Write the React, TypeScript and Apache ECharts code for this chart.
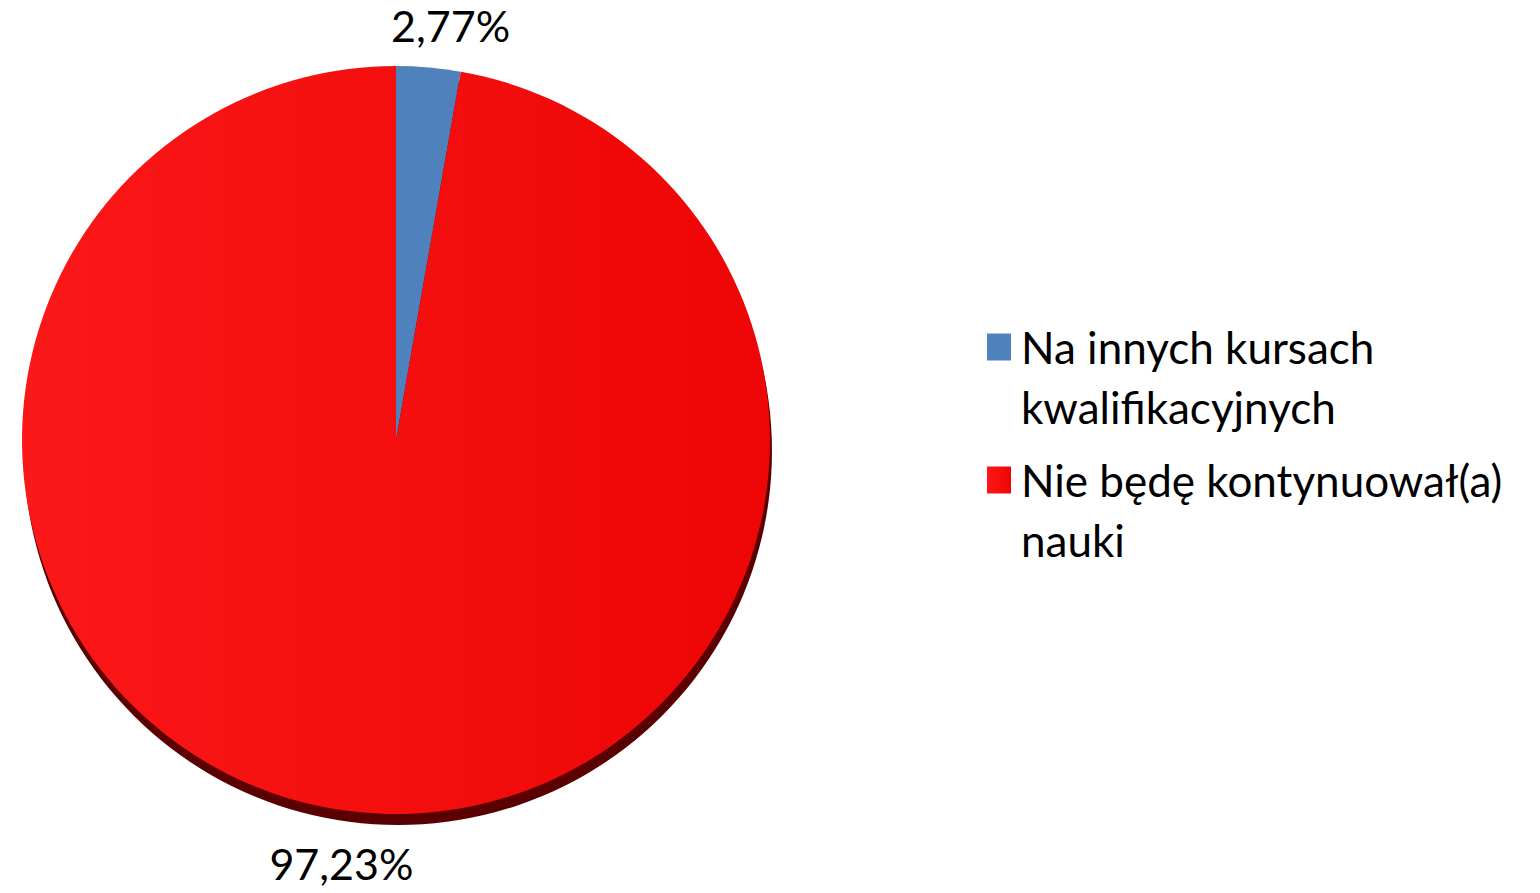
import React, { useEffect, useRef } from "react";
import * as echarts from "echarts";

const categories = ["Na innych kursach kwalifikacyjnych", "Nie będę kontynuował(a) nauki"];
const legendLabels = ["Na innych kursach\nkwalifikacyjnych", "Nie będę kontynuował(a)\nnauki"];
const values = [2.77, 97.23];
const colors = ["#4f81bd", "#f50a0a"];

const FONT = "Lato, 'Open Sans', sans-serif";

export default function App() {
  const ref = useRef<HTMLDivElement>(null);
  useEffect(() => {
    if (!ref.current) return;
    const chart = echarts.init(ref.current, undefined, { renderer: "svg" });
    const center = [396, 440];
    const radius = 374;
    const redGradient = new echarts.graphic.LinearGradient(0, 0, 1, 0, [
      { offset: 0, color: "#fb1818" },
      { offset: 1, color: "#ee0505" },
    ]);
    chart.setOption({
      animation: false,
      backgroundColor: "#ffffff",
      legend: categories.map((c, i) => ({
        data: [c],
        orient: "vertical",
        left: 987,
        top: i === 0 ? 257 : 390,
        padding: 0,
        itemWidth: 34,
        itemHeight: 27,
        itemGap: 0,
        icon: "path://M0,0L24,0L24,27L0,27Z",
        selectedMode: false,
        formatter: () => " \n" + legendLabels[i],
        textStyle: {
          fontFamily: FONT,
          fontSize: 44,
          color: "#000",
          lineHeight: 60,
        },
      })),
      series: [
        {
          type: "pie",
          silent: true,
          center: [center[0] + 2, center[1] + 11],
          radius: radius,
          startAngle: 90,
          clockwise: true,
          label: { show: false },
          labelLine: { show: false },
          itemStyle: { color: "#5a0000" },
          data: [{ name: "shadow", value: 1 }],
          z: 1,
        },
        {
          type: "pie",
          center: center,
          radius: radius,
          startAngle: 90,
          clockwise: true,
          z: 2,
          label: {
            show: true,
            position: "outside",
            fontFamily: FONT,
            fontSize: 43,
            lineHeight: 36,
            color: "#000",
            formatter: (p: any) => p.value.toFixed(2).replace(".", ",") + "%",
          },
          labelLine: { show: false, length: 24, length2: 15 },
          labelLayout: (p: any) => ({
            align: "center",
            verticalAlign: p.dataIndex === 0 ? "bottom" : "top",
            dy: p.dataIndex === 0 ? 0 : 9,
          }),
          itemStyle: { borderWidth: 0 },
          data: categories.map((c, i) => ({
            name: c,
            value: values[i],
            itemStyle: { color: i === 1 ? redGradient : colors[i] },
          })),
        },
      ],
    });
    return () => chart.dispose();
  }, []);
  return (
    <div
      ref={ref}
      style={{ position: "fixed", left: 0, top: 0, width: 1540, height: 893 }}
    />
  );
}
